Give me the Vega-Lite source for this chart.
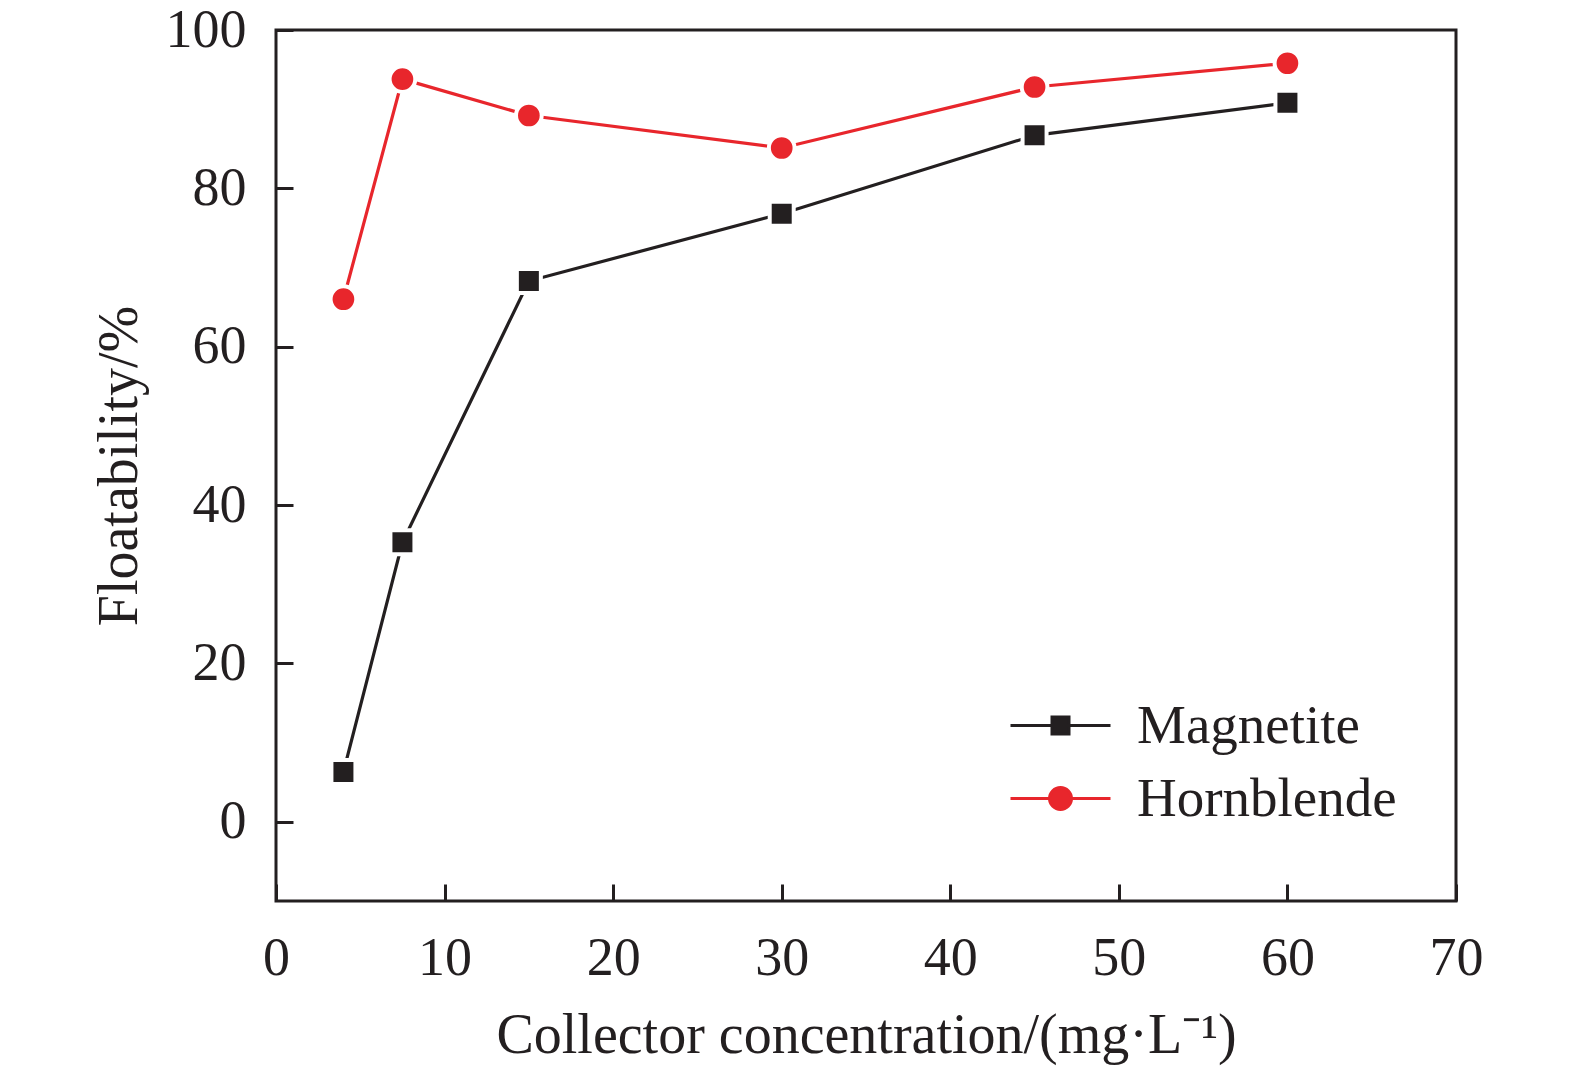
{
  "$schema": "https://vega.github.io/schema/vega-lite/v6.json",
  "width": 1180,
  "height": 871,
  "autosize": {"type": "none"},
  "padding": {"left": 276, "top": 30, "right": 119, "bottom": 167},
  "background": "white",
  "config": {
    "view": {"stroke": "#231f20", "strokeWidth": 3},
    "font": "Liberation Serif",
    "axis": {
      "grid": false,
      "domain": false,
      "tickColor": "#231f20",
      "tickWidth": 3,
      "tickSize": -17,
      "labelFlush": false,
      "labelFont": "Liberation Serif",
      "labelFontSize": 54,
      "labelColor": "#231f20",
      "labelPadding": 47,
      "titleFont": "Liberation Serif",
      "titleFontSize": 56,
      "titleFontWeight": "normal",
      "titleColor": "#231f20"
    }
  },
  "data": {
    "values": [
      {"conc": 4, "float": 6.3, "mineral": "Magnetite"},
      {"conc": 7.5, "float": 35.3, "mineral": "Magnetite"},
      {"conc": 15, "float": 68.3, "mineral": "Magnetite"},
      {"conc": 30, "float": 76.8, "mineral": "Magnetite"},
      {"conc": 45, "float": 86.7, "mineral": "Magnetite"},
      {"conc": 60, "float": 90.8, "mineral": "Magnetite"},
      {"conc": 4, "float": 66.0, "mineral": "Hornblende"},
      {"conc": 7.5, "float": 93.8, "mineral": "Hornblende"},
      {"conc": 15, "float": 89.2, "mineral": "Hornblende"},
      {"conc": 30, "float": 85.1, "mineral": "Hornblende"},
      {"conc": 45, "float": 92.8, "mineral": "Hornblende"},
      {"conc": 60, "float": 95.8, "mineral": "Hornblende"}
    ]
  },
  "encoding": {
    "x": {
      "field": "conc",
      "type": "quantitative",
      "title": "Collector concentration/(mg·L⁻¹)",
      "scale": {"domain": [0, 70], "nice": false},
      "axis": {"values": [0, 10, 20, 30, 40, 50, 60, 70], "titlePadding": 23}
    },
    "y": {
      "field": "float",
      "type": "quantitative",
      "title": "Floatability/%",
      "scale": {"domain": [-10, 100], "nice": false},
      "axis": {"values": [0, 20, 40, 60, 80, 100], "titlePadding": 17}
    },
    "color": {
      "field": "mineral",
      "type": "nominal",
      "scale": {"domain": ["Magnetite", "Hornblende"], "range": ["#231f20", "#e8262c"]}
    }
  },
  "layer": [
    {
      "mark": {"type": "line", "strokeWidth": 3.2},
      "encoding": {
        "color": {
          "field": "mineral",
          "type": "nominal",
          "scale": {"domain": ["Magnetite", "Hornblende"], "range": ["#231f20", "#e8262c"]},
          "legend": {
            "title": null,
            "orient": "none",
            "legendX": 757,
            "legendY": 668,
            "padding": 0,
            "symbolSize": 400,
            "labelFont": "Liberation Serif",
            "labelFontSize": 55,
            "labelColor": "#231f20",
            "labelLimit": 500,
            "labelOffset": 49,
            "rowPadding": 17,
            "encode": {
              "symbols": {
                "update": {
                  "shape": {"signal": "datum.value === 'Magnetite' ? 'M-5,0H5M-0.85,-0.85H0.85V0.85H-0.85Z' : 'M-5,0H5M-1.1,0A1.1,1.1,0,1,0,1.1,0A1.1,1.1,0,1,0,-1.1,0Z'"},
                  "fill": {"scale": "color", "field": "value"},
                  "stroke": {"scale": "color", "field": "value"},
                  "strokeWidth": {"value": 3},
                  "opacity": {"value": 1},
                  "size": {"value": 400}
                }
              }
            }
          }
        }
      }
    },
    {
      "transform": [{"filter": "datum.mineral === 'Magnetite'"}],
      "mark": {"type": "point", "filled": true, "opacity": 1, "shape": "square", "size": 576, "stroke": "white", "strokeWidth": 4}
    },
    {
      "transform": [{"filter": "datum.mineral === 'Hornblende'"}],
      "mark": {"type": "point", "filled": true, "opacity": 1, "shape": "circle", "size": 660, "stroke": "white", "strokeWidth": 4}
    }
  ]
}
